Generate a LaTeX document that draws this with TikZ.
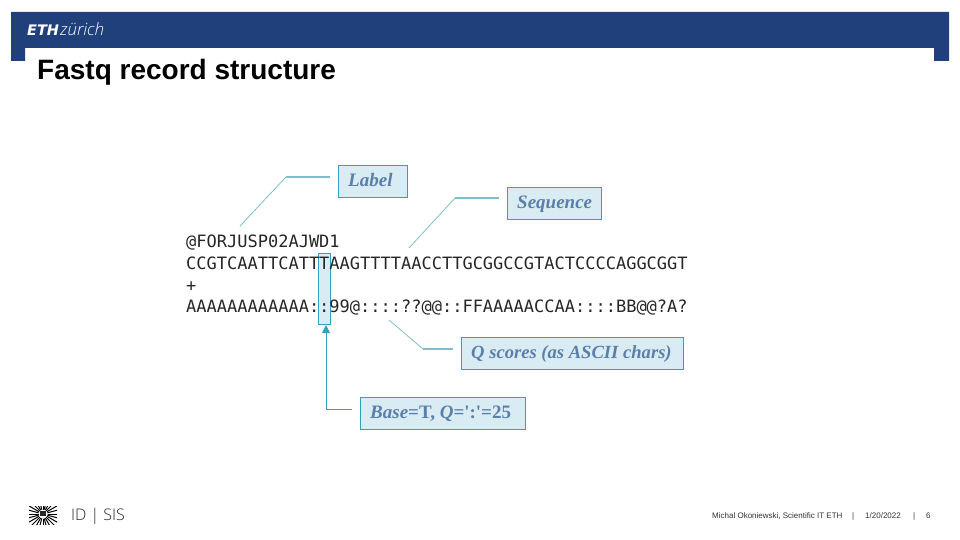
\documentclass[tikz,border=0pt]{standalone}
\usepackage{fontspec}
\setmainfont{Liberation Sans}
\newfontfamily\seriffont{Liberation Serif}
\newfontfamily\codefont{DejaVu Sans Mono}
\newfontfamily\ethfont{DejaVu Sans}
\newfontfamily\lightfont{Open Sans Light}[ItalicFont={Open Sans Light Italic}]
\usetikzlibrary{arrows.meta}
\definecolor{ethblue}{HTML}{1F407A}
\definecolor{boxfill}{HTML}{D9ECF4}
\definecolor{boxline}{HTML}{35A0BC}
\definecolor{leader}{HTML}{7DBDCC}
\definecolor{calltext}{HTML}{5A7FA8}
\definecolor{arrowc}{HTML}{35A0C4}
\tikzset{
  px/.style={x=1pt,y=-1pt},
  callout/.style={draw=boxline,fill=boxfill,line width=1pt,inner sep=0,anchor=north west,align=center},
  calltxt/.style={font=\seriffont\fontsize{19}{22}\selectfont\bfseries\itshape,text=calltext,inner sep=0,anchor=base west},
  codeline/.style={font=\codefont\fontsize{17}{20}\selectfont,text=black!85,inner sep=0,anchor=base west},
  leadthin/.style={draw=leader,line width=0.8pt,line join=round},
  leadthick/.style={draw=leader,line width=1.5pt},
  foot/.style={font=\fontsize{8}{10}\selectfont,text=black!80,inner sep=0,anchor=base west},
}
\begin{document}
\begin{tikzpicture}[px]
\useasboundingbox (0,0) rectangle (960,540);
% banner
\fill[ethblue] (11,12) -- (949,12) -- (949,61) -- (934,61) -- (934,48) -- (25,48) -- (25,61) -- (11,61) -- cycle;
\node[inner sep=0,anchor=base west,text=white,font=\ethfont\fontsize{14.5}{18}\selectfont\bfseries\itshape] (eth) at (27,36) {ETH};
\node[inner sep=0,anchor=base west,text=white,font=\lightfont\fontsize{17}{18}\selectfont\itshape] (zur) at (60,36) {zürich};
\node[inner sep=0,anchor=base west,font=\fontsize{28}{30}\selectfont\bfseries] (title) at (37,80) {Fastq record structure};
% highlight column
\node[callout,minimum width=12pt,minimum height=71pt] (col) at (318,253) {};
% code
\node[codeline] (l1) at (186,247) {@FORJUSP02AJWD1};
\node[codeline] (l2) at (186,269) {CCGTCAATTCATTTAAGTTTTAACCTTGCGGCCGTACTCCCCAGGCGGT};
\node[codeline] (l3) at (186,291) {+};
\node[codeline] (l4) at (186,312) {AAAAAAAAAAAA::99@::::??@@::FFAAAAACCAA::::BB@@?A?};
% callouts
\node[callout,minimum width=69pt,minimum height=32pt] (blabel) at (338,165) {};
\node[calltxt] (tlabel) at (348,186) {Label};
\node[callout,minimum width=94pt,minimum height=32pt] (bseq) at (507,187) {};
\node[calltxt] (tseq) at (517,208) {Sequence};
\node[callout,minimum width=222pt,minimum height=32pt] (bq) at (461,337) {};
\node[calltxt,font=\seriffont\fontsize{18.6}{22}\selectfont\bfseries\itshape] (tq) at (471,358) {Q scores (as ASCII chars)};
\node[callout,minimum width=165pt,minimum height=32pt] (bbase) at (360,397) {};
\node[calltxt] (tbase) at (370,418) {Base{\upshape =T, }Q{\upshape =':'=25}};
% leaders
\coordinate (a1) at (240,226); \coordinate (a2) at (286,177); \coordinate (a3) at (330,177);
\coordinate (b1) at (409,248); \coordinate (b2) at (455,198); \coordinate (b3) at (499,198);
\coordinate (c1) at (389,320); \coordinate (c2) at (423,349); \coordinate (c3) at (453,349);
\coordinate (d2) at (326,409); \coordinate (d3) at (352,409); \coordinate (d1) at (326,325);
\draw[leadthin] (a1) -- (a2);\draw[leadthick] (a2) -- (a3);
\draw[leadthin] (b1) -- (b2);\draw[leadthick] (b2) -- (b3);
\draw[leadthin] (c1) -- (c2);\draw[leadthick] (c2) -- (c3);
\draw[draw=boxline,line width=1pt,-{Triangle[length=8pt,width=8pt,fill=arrowc]}] (d3) -- (d2) -- (d1);
% footer logo
\begin{scope}
\clip (29,506) rectangle (57,524);
\foreach \a in {0,15,...,345}{
  \draw[black,line width=1pt] (43,514) ++(\a:4.5) -- ++(\a:22);
}
\end{scope}
\fill[black!85] (40,511) rectangle (46,516);
\node[inner sep=0,anchor=base west,font=\lightfont\fontsize{16}{18}\selectfont,text=black!85] (idsis) at (71,520) {ID | SIS};
\node[foot] (f1) at (712,518) {Michal Okoniewski, Scientific IT ETH};
\node[foot] (f2) at (852,518) {|};
\node[foot] (f3) at (865,518) {1/20/2022};
\node[foot] (f4) at (913,518) {|};
\node[foot] (f5) at (926,518) {6};
\end{tikzpicture}
\end{document}
